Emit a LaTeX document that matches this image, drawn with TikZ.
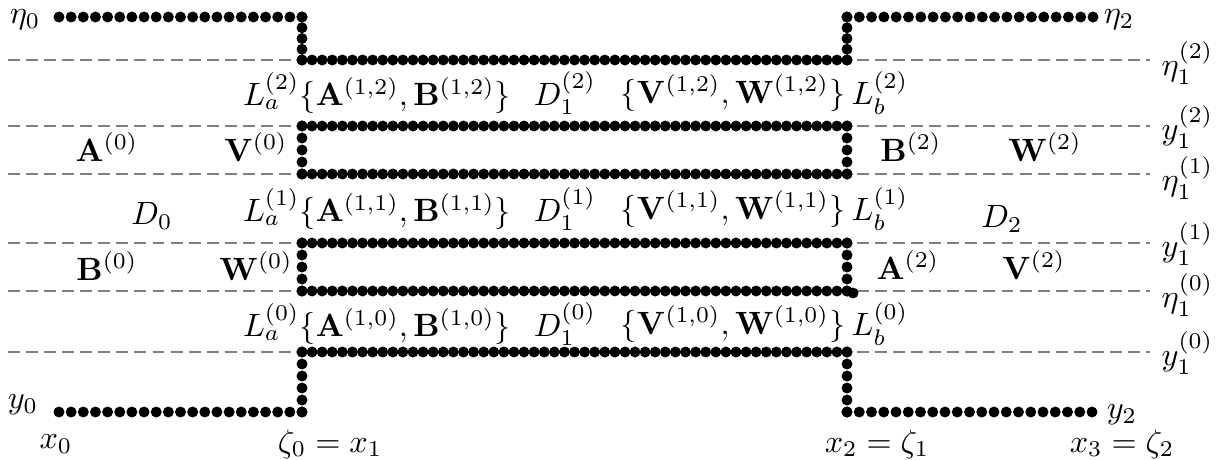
\documentclass[tikz,border=0pt]{standalone}
\usepackage{amsmath}
\tikzset{
  guide/.style={draw=black!50, line width=0.4pt, dash pattern=on 3.7pt off 1.9pt},
  lbl/.style={inner sep=0pt, anchor=center},
  rlbl/.style={inner sep=0pt, anchor=west},
}
% a row of evenly spaced heavy dots from (#1,#2) to (#3,#4), #5 intervals
\newcommand{\beadrow}[5]{%
  \foreach \k in {0,...,#5}{%
    \pgfmathsetmacro{\px}{#1+(#3-#1)/#5*\k}%
    \pgfmathsetmacro{\py}{#2+(#4-#2)/#5*\k}%
    \fill (\px,\py) circle[radius=1.7pt];
  }}
\begin{document}
\begin{tikzpicture}[x=0.31pt, y=-0.31pt]
\useasboundingbox (0,0) rectangle (1217,459);

% horizontal guide levels
\foreach \yy in {60,126,174,243,291,352}
  \draw[guide] (8,\yy) -- (1150,\yy);

% upper boundary: eta_0 -- eta_1^(2) -- eta_2
\beadrow{59}{17}{302}{17}{20}
\beadrow{302}{17}{302}{60}{4}
\beadrow{302}{60}{847}{60}{54}
\beadrow{847}{60}{847}{17}{4}
\beadrow{847}{17}{1093}{17}{20}

% upper strip
\beadrow{302}{126}{847}{126}{54}
\beadrow{302}{174}{847}{174}{54}
\beadrow{302}{126}{302}{174}{4}
\beadrow{847}{126}{847}{174}{4}

% lower strip
\beadrow{302}{243}{847}{243}{54}
\beadrow{302}{291}{847}{291}{54}
\beadrow{302}{243}{302}{291}{4}
\beadrow{847}{243}{847}{291}{4}
\fill (853,293) circle[radius=1.7pt];

% lower boundary: y_0 -- y_1^(0) -- y_2
\beadrow{59}{412}{302}{412}{20}
\beadrow{302}{412}{302}{352}{5}
\beadrow{302}{352}{847}{352}{54}
\beadrow{847}{352}{847}{412}{5}
\beadrow{847}{412}{1092}{412}{20}

% level labels
\node[lbl] (eta0) at (25,20) {$\eta_0$};
\node[lbl] (eta2) at (1119,20) {$\eta_2$};
\node[lbl] (y0) at (23,405) {$y_0$};
\node[lbl] (y2) at (1122,415) {$y_2$};
\node[rlbl] (e12) at (1161,63) {$\eta_1^{(2)}$};
\node[rlbl] (y12) at (1161,127) {$y_1^{(2)}$};
\node[rlbl] (e11) at (1161,178) {$\eta_1^{(1)}$};
\node[rlbl] (y11) at (1161,244) {$y_1^{(1)}$};
\node[rlbl] (e10) at (1161,295) {$\eta_1^{(0)}$};
\node[rlbl] (y10) at (1161,353) {$y_1^{(0)}$};

% abscissae
\node[lbl] (x0) at (56,444) {$x_0$};
\node[lbl] (x1) at (330,444) {$\zeta_0 = x_1$};
\node[lbl] (x2) at (877,444) {$x_2 = \zeta_1$};
\node[lbl] (x3) at (1122,444) {$x_3 = \zeta_2$};

% outer domains
\node[lbl] (A0) at (107,147) {$\mathbf{A}^{(0)}$};
\node[lbl] (V0) at (256,147) {$\mathbf{V}^{(0)}$};
\node[lbl] (D0) at (152,216) {$D_0$};
\node[lbl] (B0) at (107,266) {$\mathbf{B}^{(0)}$};
\node[lbl] (W0) at (256,266) {$\mathbf{W}^{(0)}$};
\node[lbl] (B2) at (911,147) {$\mathbf{B}^{(2)}$};
\node[lbl] (W2) at (1045,147) {$\mathbf{W}^{(2)}$};
\node[lbl] (D2) at (1002,219) {$D_2$};
\node[lbl] (A2) at (908,265) {$\mathbf{A}^{(2)}$};
\node[lbl] (V2) at (1034,265) {$\mathbf{V}^{(2)}$};

% channel rows
\foreach \j/\yy in {2/93, 1/209, 0/324}{
  \node[lbl] (La\j) at (377,\yy) {$L_a^{(\j)}\{\mathbf{A}^{(1,\j)},\mathbf{B}^{(1,\j)}\}$};
  \node[lbl] (D1\j) at (565,\yy) {$D_1^{(\j)}$};
  \node[lbl] (VW\j) at (733,\yy) {$\{\mathbf{V}^{(1,\j)},\mathbf{W}^{(1,\j)}\}$};
  \node[lbl] (Lb\j) at (880,\yy) {$L_b^{(\j)}$};
}
\end{tikzpicture}
\end{document}
